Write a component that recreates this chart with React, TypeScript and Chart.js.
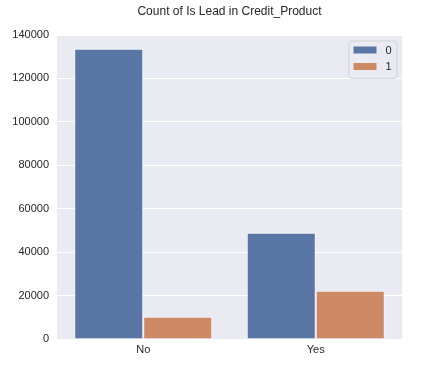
import React, { useEffect, useRef } from "react";
import { Chart, registerables } from "chart.js";

Chart.register(...registerables);

const categories = ["No", "Yes"];
const seriesLabels = ["0", "1"];
const series0 = [133700, 48900];
const series1 = [10300, 22200];
const yTicks = [0, 20000, 40000, 60000, 80000, 100000, 120000, 140000];
const titleText = "Count of Is Lead in Credit_Product";

const FONT = "'Liberation Sans', Arial, sans-serif";
const TEXT = "#262626";
const BG = "#EAEAF2";
const colors = ["#5975A4", "#CC8963"];

const bgPlugin = {
  id: "plotBg",
  beforeDraw(chart: any) {
    const { ctx, chartArea: a } = chart;
    ctx.save();
    ctx.fillStyle = "#ffffff";
    ctx.fillRect(0, 0, chart.width, chart.height);
    ctx.fillStyle = BG;
    ctx.fillRect(a.left, a.top, a.right - a.left, a.bottom - a.top);
    ctx.restore();
  },
};

const titlePlugin = {
  id: "customTitle",
  afterDraw(chart: any) {
    const { ctx, chartArea: a } = chart;
    ctx.save();
    ctx.font = `12px ${FONT}`;
    ctx.fillStyle = TEXT;
    ctx.textAlign = "center";
    ctx.textBaseline = "middle";
    ctx.fillText(titleText, (a.left + a.right) / 2, 12);
    ctx.restore();
  },
};

function roundRect(ctx: any, x: number, y: number, w: number, h: number, r: number) {
  ctx.beginPath();
  ctx.moveTo(x + r, y);
  ctx.lineTo(x + w - r, y);
  ctx.arcTo(x + w, y, x + w, y + r, r);
  ctx.lineTo(x + w, y + h - r);
  ctx.arcTo(x + w, y + h, x + w - r, y + h, r);
  ctx.lineTo(x + r, y + h);
  ctx.arcTo(x, y + h, x, y + h - r, r);
  ctx.lineTo(x, y + r);
  ctx.arcTo(x, y, x + r, y, r);
  ctx.closePath();
}

const legendPlugin = {
  id: "customLegend",
  afterDraw(chart: any) {
    const { ctx, chartArea: a } = chart;
    const ds = chart.data.datasets;
    const right = a.right - 5.5;
    const top = a.top + 5.5;
    const w = 48;
    const h = 37.4;
    const left = right - w;
    ctx.save();
    roundRect(ctx, left + 0.5, top + 0.5, w, h, 3);
    ctx.fillStyle = "rgba(234,234,242,0.8)";
    ctx.fill();
    ctx.strokeStyle = "rgba(204,204,204,0.8)";
    ctx.lineWidth = 1;
    ctx.stroke();
    ctx.font = `11px ${FONT}`;
    ctx.textBaseline = "middle";
    ctx.textAlign = "left";
    ds.forEach((d: any, i: number) => {
      const cy = top + 9.5 + i * 16.5;
      ctx.fillStyle = d.backgroundColor;
      ctx.fillRect(left + 5, cy - 3.5, 23, 7);
      ctx.fillStyle = TEXT;
      ctx.fillText(d.label, left + 37, cy + 0.5);
    });
    ctx.restore();
  },
};

export default function App() {
  const ref = useRef<HTMLCanvasElement | null>(null);
  useEffect(() => {
    document.body.style.margin = "0";
    if (!ref.current) return;
    const chart = new Chart(ref.current, {
      type: "bar",
      data: {
        labels: categories,
        datasets: [
          {
            label: seriesLabels[0],
            data: series0,
            backgroundColor: colors[0],
            borderColor: "rgba(255,255,255,0.5)",
            borderWidth: 1,
            categoryPercentage: 0.8,
            barPercentage: 1.0,
          },
          {
            label: seriesLabels[1],
            data: series1,
            backgroundColor: colors[1],
            borderColor: "rgba(255,255,255,0.5)",
            borderWidth: 1,
            categoryPercentage: 0.8,
            barPercentage: 1.0,
          },
        ],
      },
      options: {
        animation: false,
        responsive: false,
        maintainAspectRatio: false,
        layout: { padding: { top: 35, right: 23, left: 0, bottom: 0 } },
        plugins: {
          legend: { display: false },
          title: { display: false },
          tooltip: { enabled: false },
        },
        scales: {
          x: {
            grid: { display: false, drawTicks: false },
            border: { display: false },
            ticks: {
              color: TEXT,
              font: { family: FONT, size: 11 },
              padding: 4,
            },
            afterFit(scale: any) {
              scale.height = 35;
            },
          },
          y: {
            min: 0,
            max: 140000,
            grid: { color: "#ffffff", lineWidth: 1, drawTicks: false },
            border: { display: false },
            afterBuildTicks(scale: any) {
              scale.ticks = yTicks.map((v) => ({ value: v }));
            },
            ticks: {
              color: TEXT,
              font: { family: FONT, size: 11 },
              padding: 8,
              callback: (v: any) => String(v),
            },
            afterFit(scale: any) {
              scale.width = 57;
            },
          },
        },
      },
      plugins: [bgPlugin, titlePlugin, legendPlugin],
    });
    return () => chart.destroy();
  }, []);
  return (
    <div style={{ width: 425, height: 374 }}>
      <canvas ref={ref} width={425} height={374} style={{ display: "block" }} />
    </div>
  );
}
